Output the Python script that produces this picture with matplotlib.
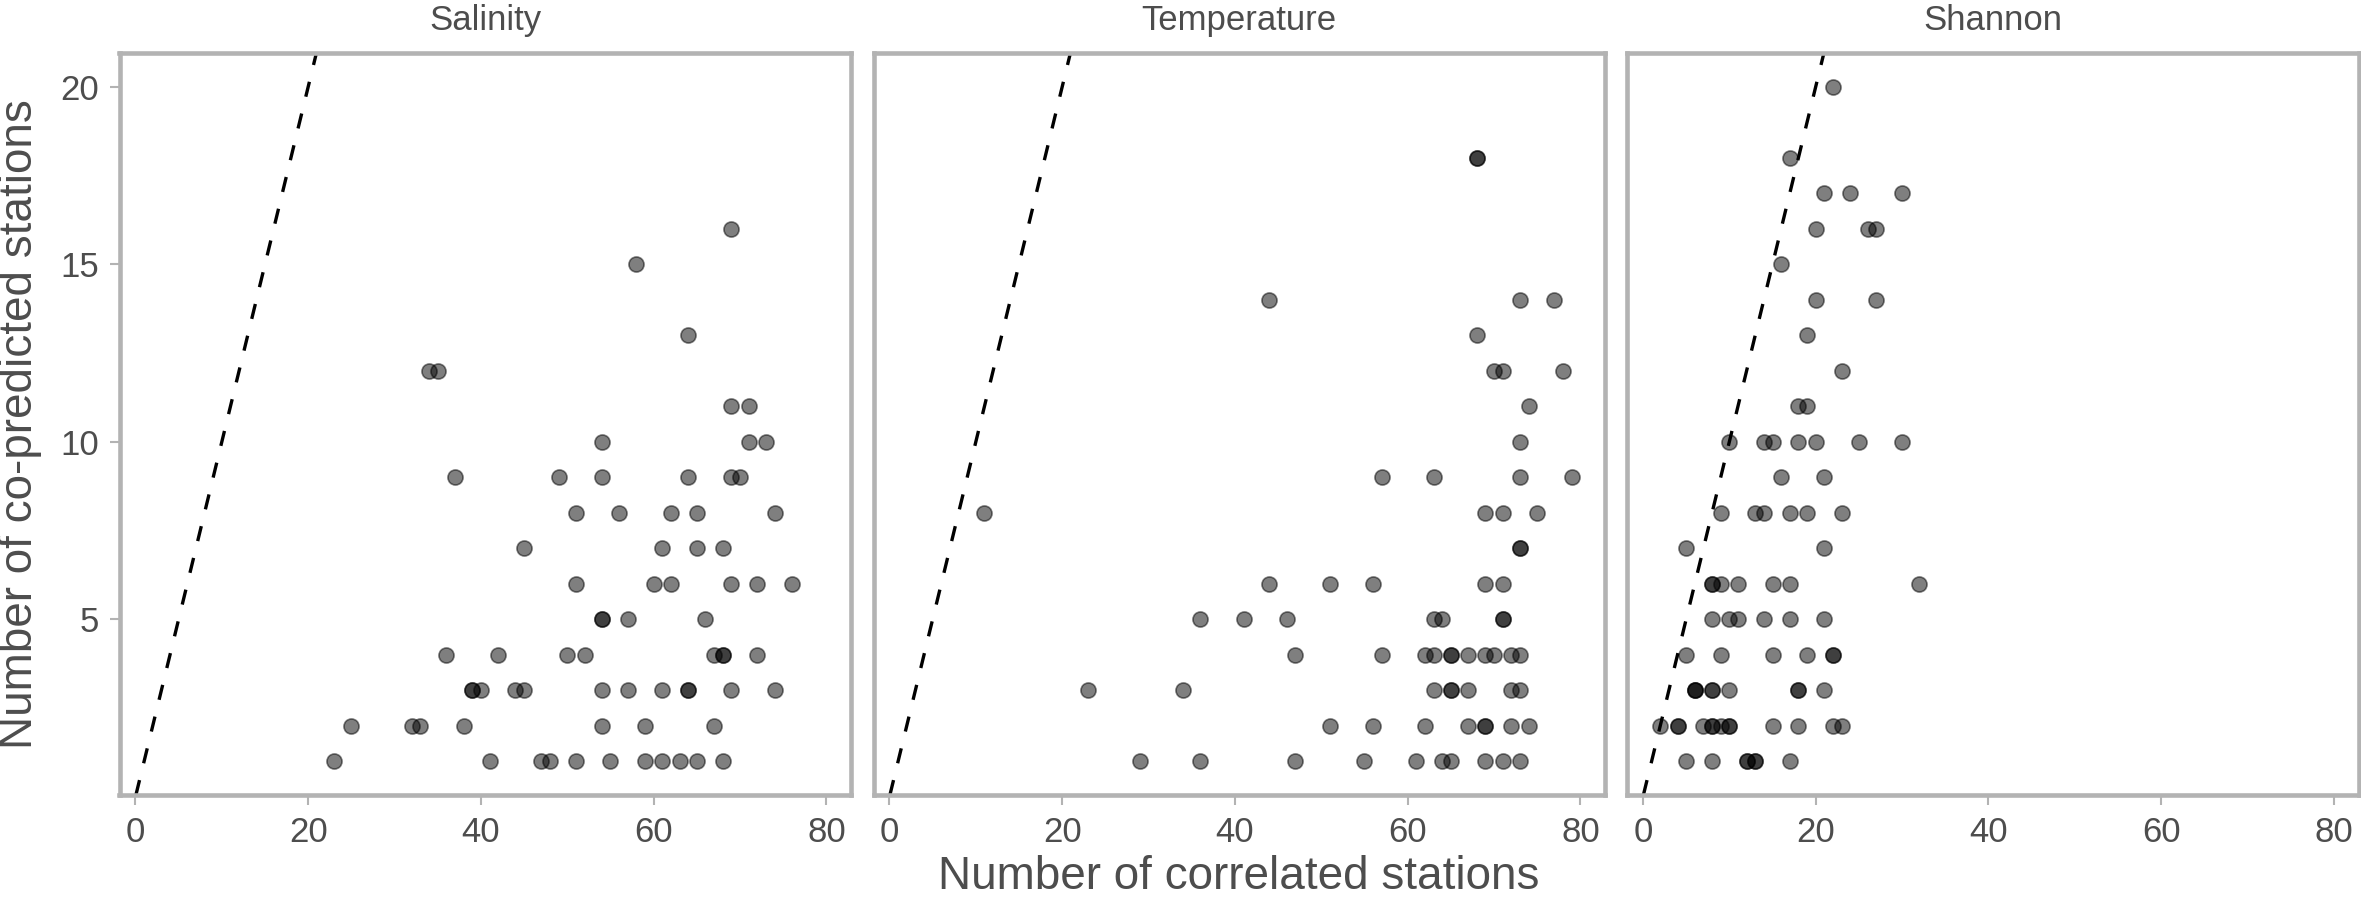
import matplotlib
matplotlib.use("Agg")
import matplotlib.pyplot as plt

plt.rcParams['font.family'] = ['Liberation Sans', 'DejaVu Sans']

# number of co-predicted stations -> number of correlated stations (one entry per station)
salinity = {
    1: [23, 41, 47, 48, 51, 55, 59, 61, 63, 65, 68],
    2: [25, 32, 33, 38, 54, 59, 67],
    3: [39, 39, 40, 44, 45, 54, 57, 61, 64, 64, 69, 74],
    4: [36, 42, 50, 52, 67, 68, 68, 72],
    5: [54, 54, 57, 66],
    6: [51, 60, 62, 69, 72, 76],
    7: [45, 61, 65, 68],
    8: [51, 56, 62, 65, 74],
    9: [37, 49, 54, 64, 69, 70],
    10: [54, 71, 73],
    11: [69, 71],
    12: [34, 35],
    13: [64],
    15: [58],
    16: [69],
}

temperature = {
    1: [29, 36, 47, 55, 61, 64, 65, 69, 71, 73],
    2: [51, 56, 62, 67, 69, 69, 72, 74],
    3: [23, 34, 63, 65, 65, 67, 72, 73],
    4: [47, 57, 62, 63, 65, 65, 67, 69, 70, 72, 73],
    5: [36, 41, 46, 63, 64, 71, 71],
    6: [44, 51, 56, 69, 71],
    7: [73, 73],
    8: [11, 69, 71, 75],
    9: [57, 63, 73, 79],
    10: [73],
    11: [74],
    12: [70, 71, 78],
    13: [68],
    14: [44, 73, 77],
    18: [68, 68],
}

shannon = {
    1: [5, 8, 12, 12, 13, 13, 17],
    2: [2, 4, 4, 7, 8, 8, 9, 10, 10, 15, 18, 22, 23],
    3: [6, 6, 6, 8, 8, 10, 18, 18, 21],
    4: [5, 9, 15, 19, 22, 22],
    5: [8, 10, 11, 14, 17, 21],
    6: [8, 8, 9, 11, 15, 17, 32],
    7: [5, 21],
    8: [9, 13, 14, 17, 19, 23],
    9: [16, 21],
    10: [10, 14, 15, 18, 20, 25, 30],
    11: [18, 19],
    12: [23],
    13: [19],
    14: [20, 27],
    15: [16],
    16: [20, 26, 27],
    17: [21, 24, 30],
    18: [17],
    20: [22],
}

panels = ["Salinity", "Temperature", "Shannon"]
panel_data = [salinity, temperature, shannon]
x_ticks = [0, 20, 40, 60, 80]
y_ticks = [5, 10, 15, 20]

frame_col = "#b3b3b3"
text_col = "#4d4d4d"

W, H = 2361, 901
fig = plt.figure(figsize=(W / 100, H / 100), dpi=100)

lefts = [119.5, 873.5, 1627]
pw = 731.5
bottom = 1 - 795 / H
ph = (795 - 53) / H

for i, (name, data) in enumerate(zip(panels, panel_data)):
    ax = fig.add_axes([lefts[i] / W, bottom, pw / W, ph])
    xs, ys = [], []
    for y, row in data.items():
        for x in row:
            xs.append(x)
            ys.append(y)
    ax.scatter(xs, ys, s=118, c="black", alpha=0.5, edgecolors="black",
               linewidths=1.2, zorder=3)
    ax.axline((0, 0), slope=1, color="black", lw=2.4,
              linestyle=(0, (4.6, 5.2)), zorder=2)

    ax.set_xlim(-1.85, 82.85)
    ax.set_ylim(0.05, 20.95)
    ax.set_xticks(x_ticks)
    ax.set_yticks(y_ticks)

    for sp in ax.spines.values():
        sp.set_color(frame_col)
        sp.set_linewidth(3.3)

    ax.tick_params(axis="both", colors=frame_col, labelcolor=text_col,
                   length=7, width=1.5, labelsize=25, pad=8)
    if i > 0:
        ax.tick_params(axis="y", left=False, labelleft=False)

    fig.text((lefts[i] + pw / 2) / W, 1 - 30 / H, name, ha="center",
             va="baseline", fontsize=25, color=text_col)

# shared axis titles
fig.text((lefts[0] + lefts[2] + pw) / 2 / W, 2 / H,
         "Number of correlated stations", ha="center", va="bottom",
         fontsize=33, color=text_col)
fig.text(20 / W, bottom + ph / 2, "Number of co-predicted stations",
         ha="center", va="center", rotation=90, fontsize=33, color=text_col)

fig.savefig("out.png", dpi=100)
